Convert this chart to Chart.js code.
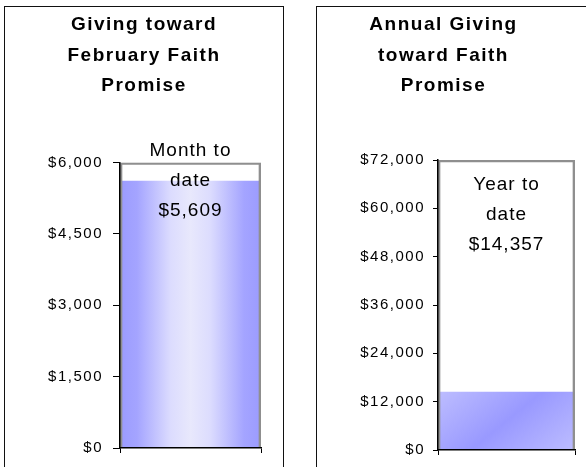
<!DOCTYPE html>
<html><head><meta charset="utf-8">
<script src="https://cdn.jsdelivr.net/npm/chart.js@4"></script>
<style>
html,body{margin:0;padding:0;background:#fff;width:586px;height:467px;overflow:hidden;position:relative}
.panel{position:absolute;border:1.5px solid #111;box-sizing:border-box}
canvas{position:absolute;top:0}
</style></head><body>
<div class="panel" style="left:4px;top:6px;width:280px;height:490px"></div>
<div class="panel" style="left:316px;top:6px;width:300px;height:490px"></div>
<canvas id="c1" width="288" height="467" style="left:0"></canvas>
<canvas id="c2" width="285" height="467" style="left:301px"></canvas>
<script>
// ---- data ----
const monthCategories = ['Month to date'];
const monthTitle = ['Giving toward', 'February Faith', 'Promise'];
const monthGoal = [6000];
const monthGiven = [5609];
const monthTicks = ['$0', '$1,500', '$3,000', '$4,500', '$6,000'];
const monthLabel = ['Month to', 'date'];

const yearCategories = ['Year to date'];
const yearTitle = ['Annual Giving', 'toward Faith', 'Promise'];
const yearGoal = [72000];
const yearGiven = [14357];
const yearTicks = ['$0', '$12,000', '$24,000', '$36,000', '$48,000', '$60,000', '$72,000'];
const yearLabel = ['Year to', 'date'];

const FONT = '"Liberation Sans", Arial, Helvetica, sans-serif';
const fmt = v => '$' + v.toLocaleString('en-US');

function horizontalFill(c) {
  const ca = c.chart.chartArea;
  if (!ca) return '#9999ff';
  const g = c.chart.ctx.createLinearGradient(ca.left, 0, ca.right, 0);
  g.addColorStop(0, '#9b9bff');
  g.addColorStop(0.12, '#a4a4ff');
  g.addColorStop(0.36, '#dcdcfe');
  g.addColorStop(0.5, '#e8e8fc');
  g.addColorStop(0.64, '#dcdcfe');
  g.addColorStop(0.88, '#a4a4ff');
  g.addColorStop(1, '#9b9bff');
  return g;
}
function diagonalFill(c) {
  const ca = c.chart.chartArea;
  if (!ca) return '#9999ff';
  const y = c.chart.scales.y;
  const top = y.getPixelForValue(c.raw), bot = y.getPixelForValue(0);
  const cx = (ca.left + ca.right) / 2, cy = (top + bot) / 2;
  const ux = 0.63, uy = 0.777;
  const k = Math.abs((ca.right - ca.left) / 2 * ux) + Math.abs((bot - top) / 2 * uy);
  const g = c.chart.ctx.createLinearGradient(cx - k * ux, cy - k * uy, cx + k * ux, cy + k * uy);
  g.addColorStop(0, '#bdbdff');
  g.addColorStop(0.5, '#9999ff');
  g.addColorStop(1, '#bdbdff');
  return g;
}

function makeChart(id, o) {
  const labelPlugin = {
    id: 'barLabel',
    beforeDraw(chart) { chart.ctx.letterSpacing = '1.5px'; },
    afterDatasetsDraw(chart) {
      const ctx = chart.ctx;
      const bar = chart.getDatasetMeta(0).data[0];
      const lines = o.label.concat([fmt(o.given[0])]);
      ctx.save();
      ctx.letterSpacing = '1px';
      ctx.font = '19px ' + FONT;
      ctx.fillStyle = '#000';
      ctx.textAlign = 'center';
      ctx.textBaseline = 'middle';
      const cy = chart.chartArea.top + o.labelOffset;
      lines.forEach((t, i) => ctx.fillText(t, bar.x, cy + (i - 1) * 30));
      ctx.restore();
      ctx.letterSpacing = '1.5px';
    },
    afterDraw(chart) { chart.ctx.letterSpacing = '0px'; }
  };
  return new Chart(document.getElementById(id), {
    type: 'bar',
    data: {
      labels: o.categories,
      datasets: [
        { data: o.given, backgroundColor: o.fill, borderWidth: 0, grouped: false, order: 1,
          barPercentage: 1, categoryPercentage: 1 },
        { data: o.goal, backgroundColor: 'rgba(0,0,0,0)', borderColor: '#8f8f8f', borderWidth: 2,
          grouped: false, order: 0, barPercentage: 1, categoryPercentage: 1 }
      ]
    },
    options: {
      responsive: false, animation: false, events: [],
      layout: { padding: 0 },
      plugins: {
        legend: { display: false }, tooltip: { enabled: false },
        title: { display: true, text: o.title, color: '#000',
          font: { family: FONT, size: 19, weight: 'bold', lineHeight: 30.5 / 19 },
          padding: { top: 10, bottom: o.titleBottom } }
      },
      scales: {
        x: {
          grid: { display: true, drawOnChartArea: false, drawTicks: true, tickLength: 5, color: '#000', z: 1 },
          border: { display: true, color: '#000', width: 1.5, z: 1 },
          ticks: { display: false },
          afterFit: s => { s.height = o.xHeight; }
        },
        y: {
          min: 0, max: o.goal[0],
          grid: { display: true, drawOnChartArea: false, drawTicks: true, tickLength: o.tickLen, color: '#000', z: 1 },
          border: { display: true, color: '#000', width: 1.5, z: 1 },
          ticks: { stepSize: o.goal[0] / (o.ticks.length - 1), color: '#000', padding: o.tickPad, z: 1,
            font: { family: FONT, size: 15 },
            callback: (v, i) => o.ticks[i] },
          afterFit: s => { s.width = o.yWidth; }
        },
        pad: {
          type: 'linear', position: 'right', display: true,
          grid: { display: false }, border: { display: false }, ticks: { display: false },
          afterFit: s => { s.width = o.rightPad; }
        }
      }
    },
    plugins: [labelPlugin]
  });
}

makeChart('c1', { categories: monthCategories, title: monthTitle, goal: monthGoal, given: monthGiven,
  ticks: monthTicks, label: monthLabel, fill: horizontalFill, titleBottom: 61, xHeight: 11,
  yWidth: 120, rightPad: 27, tickLen: 7, tickPad: 10, labelOffset: 18.5 });
makeChart('c2', { categories: yearCategories, title: yearTitle, goal: yearGoal, given: yearGiven,
  ticks: yearTicks, label: yearLabel, fill: diagonalFill, titleBottom: 58.5, xHeight: 9,
  yWidth: 137, rightPad: 11, tickLen: 5, tickPad: 8, labelOffset: 55 });
</script>
</body></html>
